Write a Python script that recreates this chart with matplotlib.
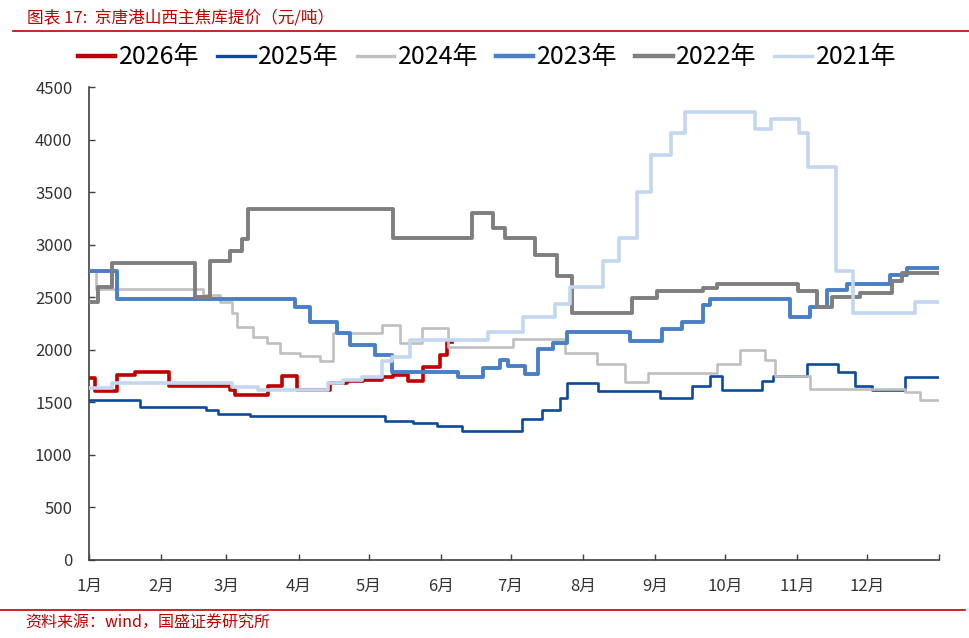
import matplotlib
matplotlib.use("Agg")
import matplotlib.pyplot as plt
from matplotlib.lines import Line2D

plt.rcParams['font.family'] = ['Noto Sans CJK SC', 'DejaVu Sans']

# day of year where the price changes, and the new price (元/吨)
days_2026 = [0, 2.6, 12, 19.8, 34.3, 60.5, 62.7, 76.9, 82.9, 89.3, 103.5, 110.8, 117.6, 125.8, 130.5, 137, 143.4, 150.7, 153.7]
vals_2026 = [1730, 1610, 1760, 1790, 1660, 1620, 1570, 1660, 1750, 1620, 1680, 1700, 1710, 1740, 1760, 1700, 1840, 1950, 2070]
end_2026 = 156

days_2025 = [0, 21.9, 50.2, 55.4, 69.1, 127.1, 139.1, 149.4, 160.2, 185.9, 194.5, 202.3, 205.2, 218.5, 245.2, 258.9, 266.6, 271.7, 289, 293.7, 308.3, 321.6, 328.9, 336.2, 350.4]
vals_2025 = [1520, 1460, 1430, 1390, 1370, 1320, 1300, 1270, 1230, 1340, 1430, 1540, 1680, 1610, 1540, 1660, 1750, 1620, 1700, 1750, 1860, 1790, 1660, 1620, 1740]

days_2024 = [0, 3, 49, 56.2, 61.4, 63.5, 70.4, 76.4, 82, 90.6, 99.2, 104.8, 125.8, 133.5, 142.9, 154.1, 182, 204.4, 218.1, 230.1, 240, 269.6, 279.5, 290.3, 294.5, 309.6, 350.4, 356.8]
vals_2024 = [2750, 2580, 2520, 2450, 2350, 2220, 2120, 2060, 1970, 1940, 1890, 2160, 2240, 2060, 2210, 2030, 2100, 1970, 1860, 1690, 1780, 1860, 2000, 1900, 1750, 1630, 1600, 1520]

days_2023 = [0, 12, 88.4, 94.9, 106.5, 112.1, 122.8, 130.1, 158.4, 169.2, 176.5, 179.9, 187.2, 192.8, 199.2, 205.2, 232.3, 246, 254.6, 263.6, 266.6, 300.9, 309.6, 316.9, 325.5, 343.9, 351.2]
vals_2023 = [2750, 2480, 2410, 2260, 2160, 2050, 1950, 1790, 1740, 1830, 1900, 1850, 1770, 2010, 2060, 2170, 2080, 2200, 2260, 2430, 2480, 2310, 2410, 2570, 2630, 2710, 2780]

days_2022 = [0, 3.9, 9.9, 45.5, 52, 60.5, 65.7, 68.3, 130.5, 164.4, 173.5, 178.6, 191.5, 201, 207.4, 233.1, 243.9, 263.6, 269.6, 304.4, 312.6, 319, 331, 344.8, 349.1]
vals_2022 = [2450, 2600, 2830, 2500, 2840, 2940, 3050, 3340, 3060, 3300, 3160, 3060, 2900, 2700, 2350, 2490, 2560, 2590, 2630, 2560, 2410, 2500, 2540, 2650, 2730]

days_2021 = [0, 9.9, 61.4, 72.6, 102.6, 109.1, 117.2, 125.8, 130.1, 137.8, 171.3, 186.3, 200.1, 206.5, 220.7, 227.6, 235.3, 241.3, 249.9, 255.9, 286, 292.8, 304.8, 308.7, 320.7, 328, 354.7]
vals_2021 = [1640, 1680, 1650, 1620, 1680, 1710, 1740, 1890, 1930, 2090, 2170, 2310, 2440, 2600, 2840, 3060, 3500, 3850, 4060, 4260, 4100, 4200, 4060, 3740, 2750, 2350, 2450]

month_starts = [0, 31, 59, 90, 120, 151, 181, 212, 243, 273, 304, 334, 365]
month_labels = ['1月', '2月', '3月', '4月', '5月', '6月', '7月', '8月', '9月', '10月', '11月', '12月', '']

series = [
    ('2026年', days_2026, vals_2026, end_2026, '#C00000', 2.6),
    ('2025年', days_2025, vals_2025, 365, '#0E4A9C', 1.9),
    ('2024年', days_2024, vals_2024, 365, '#BFBFBF', 1.9),
    ('2023年', days_2023, vals_2023, 365, '#4A7FC6', 2.8),
    ('2022年', days_2022, vals_2022, 365, '#7F7F7F', 2.8),
    ('2021年', days_2021, vals_2021, 365, '#C3D7EF', 2.6),
]

fig = plt.figure(figsize=(9.7, 6.38), dpi=100)
ax = fig.add_axes([0.0918, 0.1223, 0.8763, 0.7413])

handles = []
for i, (name, d, v, end, color, lw) in enumerate(series):
    ax.step(d + [end], v + [v[-1]], where='post', color=color, lw=lw, zorder=2 + i)
    handles.append(Line2D([], [], color=color, lw=3.2 if i in (0, 3, 4) else 2.4, label=name))

ax.set_xlim(0, 365)
ax.set_ylim(0, 4500)
ax.set_yticks(range(0, 4501, 500))
ax.set_xticks(month_starts)
ax.set_xticklabels(month_labels)
ax.tick_params(axis='both', direction='in', length=4, width=1, colors='#404040', labelcolor='#333333', labelsize=12)
ax.tick_params(axis='x', pad=13)
ax.tick_params(axis='y', pad=12)
for s in ('top', 'right'):
    ax.spines[s].set_visible(False)
for s in ('left', 'bottom'):
    ax.spines[s].set_color('#404040')
    ax.spines[s].set_linewidth(1.2)

fig.legend(handles=handles, loc='center', bbox_to_anchor=(0.502, 0.91), ncol=6, frameon=False,
           fontsize=18, handlelength=1.5, handletextpad=0.15, columnspacing=0.7)

# title and source lines
fig.text(0.028, 0.972, '图表 17:  京唐港山西主焦库提价（元/吨）', color='#C00000', fontsize=12,
         style='italic', va='center', ha='left')
fig.add_artist(Line2D([0.013, 1.0], [0.952, 0.952], color='#C00000', lw=1.2, transform=fig.transFigure))
fig.add_artist(Line2D([0.0, 0.995], [0.044, 0.044], color='#C00000', lw=1.2, transform=fig.transFigure))
fig.text(0.026, 0.024, '资料来源：wind，国盛证券研究所', color='#C00000', fontsize=11.5,
         style='italic', va='center', ha='left')

fig.savefig('out.png', dpi=100)
